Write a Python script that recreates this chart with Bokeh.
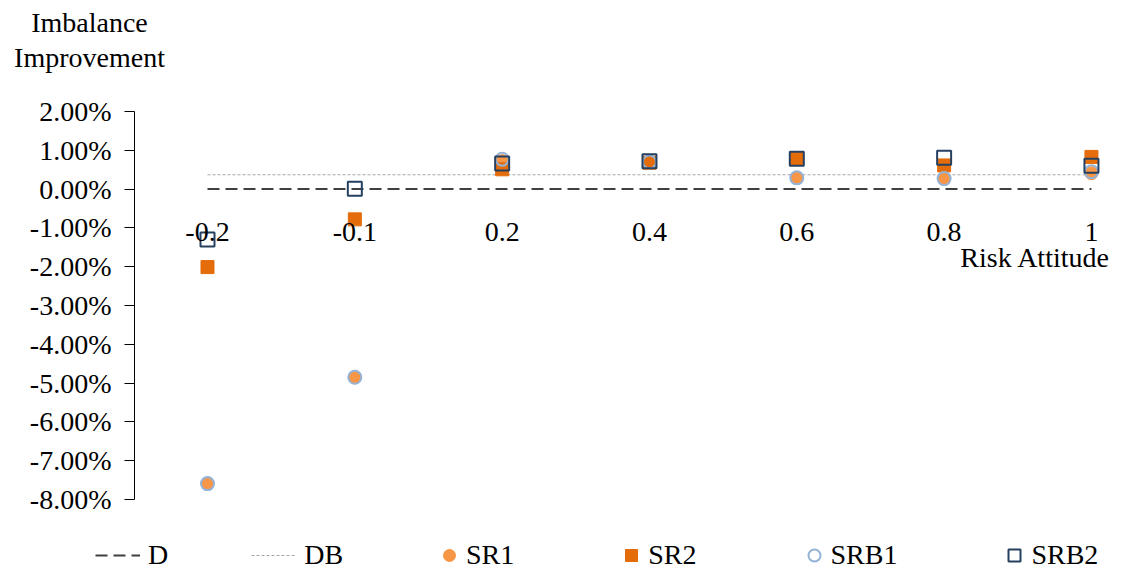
from bokeh.plotting import figure
from bokeh.models import (Range1d, FixedTicker, PrintfTickFormatter, Legend,
                          LegendItem, Label)
from bokeh.embed import file_html
from bokeh.resources import INLINE

# ---- data (values in %) ----
categories = ["-0.2", "-0.1", "0.2", "0.4", "0.6", "0.8", "1"]
D = [0.0, 0.0, 0.0, 0.0, 0.0, 0.0, 0.0]
DB = [0.37, 0.37, 0.37, 0.37, 0.37, 0.37, 0.37]
SR1 = [-7.59, -4.85, 0.72, 0.68, 0.29, 0.27, 0.41]
SR2 = [-2.01, -0.78, 0.51, 0.68, 0.78, 0.61, 0.83]
SRB1 = [-7.59, -4.85, 0.77, 0.70, 0.29, 0.27, 0.45]
SRB2 = [-1.30, 0.01, 0.66, 0.72, 0.78, 0.81, 0.60]
y_ticks = [2, 1, 0, -1, -2, -3, -4, -5, -6, -7, -8]
series_names = ["D", "DB", "SR1", "SR2", "SRB1", "SRB2"]
y_title = ["Imbalance", "Improvement"]
x_title = "Risk Attitude"

FONT = "Liberation Serif"
FS = "28px"
W = 1123

x = list(range(len(categories)))


def blank(height):
    f = figure(width=W, height=height, output_backend="svg",
               toolbar_location=None, title=None, x_axis_location=None,
               y_axis_location=None, x_range=Range1d(0, 1),
               y_range=Range1d(0, 1), min_border_left=0, min_border_right=0,
               min_border_top=0, min_border_bottom=0)
    f.outline_line_color = None
    f.xgrid.visible = False
    f.ygrid.visible = False
    return f


# ---- header strip: y-axis title ----
hdr = blank(75)
for txt, yy in zip(y_title, [53, 18]):
    hdr.add_layout(Label(x=89, y=yy, x_units="screen", y_units="screen",
                         text=txt, text_align="center", text_baseline="middle",
                         text_font=FONT, text_font_size=FS,
                         text_color="#000000"))

# ---- main chart ----
p = figure(width=W, height=455, output_backend="svg", toolbar_location=None,
           title=None, x_axis_location="above",
           x_range=Range1d(-0.4955, 6.204), y_range=Range1d(-8, 2),
           min_border_left=134, min_border_top=36, min_border_right=2,
           min_border_bottom=31)
p.outline_line_color = None
p.xgrid.visible = False
p.ygrid.visible = False
p.background_fill_color = "white"

ya = p.yaxis[0]
ya.ticker = FixedTicker(ticks=y_ticks)
ya.formatter = PrintfTickFormatter(format="%.2f%%")
ya.major_tick_out = 10
ya.major_tick_in = 0
ya.minor_tick_line_color = None
ya.major_label_standoff = 13
ya.axis_line_color = "#000000"
ya.major_tick_line_color = "#000000"
ya.major_label_text_font = FONT
ya.major_label_text_font_size = FS
ya.major_label_text_color = "#000000"

# category axis: its labels hang just under the zero line, as in the reference
xa = p.xaxis[0]
xa.ticker = FixedTicker(ticks=x)
xa.major_label_overrides = {i: c for i, c in zip(x, categories)}
xa.fixed_location = -1.34
xa.axis_line_color = None
xa.major_tick_line_color = None
xa.minor_tick_line_color = None
xa.major_tick_out = 0
xa.major_tick_in = 0
xa.major_label_standoff = 0
xa.major_label_text_font = FONT
xa.major_label_text_font_size = FS
xa.major_label_text_color = "#000000"

styles = {
    "D": dict(kind="line", line_color="#404040", line_width=2, line_dash="12 6"),
    "DB": dict(kind="line", line_color="#A6A6A6", line_width=1.2, line_dash="3 2"),
    "SR1": dict(kind="scatter", marker="circle", size=13, fill_color="#F79646",
                line_color="#F79646"),
    "SR2": dict(kind="scatter", marker="square", size=13, fill_color="#E46C0A",
                line_color="#E46C0A"),
    "SRB1": dict(kind="scatter", marker="circle", size=13, fill_color=None,
                 line_color="#95B3D7", line_width=2),
    "SRB2": dict(kind="scatter", marker="square", size=14, fill_color=None,
                 line_color="#254061", line_width=2),
}
values = {"D": D, "DB": DB, "SR1": SR1, "SR2": SR2, "SRB1": SRB1, "SRB2": SRB2}


def draw(fig, name, xs, ys):
    st = dict(styles[name])
    kind = st.pop("kind")
    if kind == "line":
        return fig.line(xs, ys, **st)
    return fig.scatter(xs, ys, **st)


for name in series_names:
    draw(p, name, x, values[name])

p.add_layout(Label(x=6, y=-1.76, x_offset=19, text=x_title,
                   text_align="right", text_baseline="middle",
                   text_font=FONT, text_font_size=FS, text_color="#000000"))

# ---- legend strip (legend proxies carry no visible data) ----
lg = blank(41)
nan = float("nan")
proxies = {name: draw(lg, name, [nan], [nan]) for name in series_names}


def make_legend(names, loc, glyph_w, glyph_h, standoff, spacing):
    leg = Legend(items=[LegendItem(label=n, renderers=[proxies[n]]) for n in names],
                 orientation="horizontal", location=loc)
    leg.glyph_width = glyph_w
    leg.glyph_height = glyph_h
    leg.label_standoff = standoff
    leg.spacing = spacing
    leg.padding = 0
    leg.margin = 0
    leg.border_line_color = None
    leg.background_fill_alpha = 0
    leg.label_text_font = FONT
    leg.label_text_font_size = FS
    leg.label_text_color = "#000000"
    return leg


lg.add_layout(make_legend(["D", "DB"], (95, 0), 45, 20, 8, 83), "center")
lg.add_layout(make_legend(["SR1", "SR2", "SRB1", "SRB2"], (434, 0), 30, 30, 2, 102),
              "center")

open("out.html", "w").write(file_html([hdr, p, lg], INLINE))
